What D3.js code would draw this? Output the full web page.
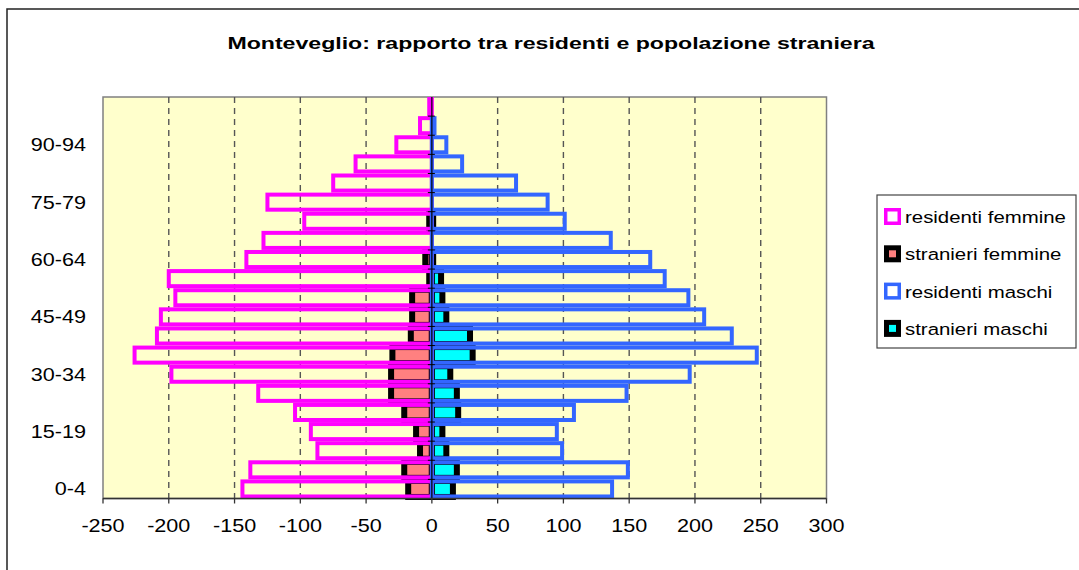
<!DOCTYPE html>
<html>
<head>
<meta charset="utf-8">
<script src="https://cdn.jsdelivr.net/npm/d3@7"></script>
<style>
  body { margin: 0; background: #fff; }
  text { font-family: "Liberation Sans", Arial, sans-serif; fill: #000; }
</style>
</head>
<body>
<div id="chart"></div>
<script>
// Age groups from youngest to oldest
const ageGroups = ["0-4", "5-9", "10-14", "15-19", "20-24", "25-29", "30-34", "35-39",
  "40-44", "45-49", "50-54", "55-59", "60-64", "65-69", "70-74", "75-79",
  "80-84", "85-89", "90-94", "95-99", "100+"];

// Females are plotted as negative values
const residentiFemmine = [-144, -138, -87, -92, -104, -132, -198, -226, -209, -206,
  -195, -200, -141, -128, -97, -125, -75, -58, -27, -9, -2];
const stranieriFemmine = [-18, -21, -9, -12, -21, -31, -31, -30, -16, -15,
  -15, -2, -5, 0, -2, 0, 0, 0, 0, 0, 0];
const residentiMaschi = [137, 149, 99, 95, 108, 148, 196, 247, 228, 207,
  195, 177, 166, 136, 101, 88, 64, 23, 11, 2, 0];
const stranieriMaschi = [16, 19, 11, 8, 20, 19, 14, 31, 29, 11,
  8, 7, 1, 0, 1, 0, 0, 0, 0, 0, 0];

const xTicks = [-250, -200, -150, -100, -50, 0, 50, 100, 150, 200, 250, 300];

const title = "Monteveglio: rapporto tra residenti e popolazione straniera";
const legendLabels = ["residenti femmine", "stranieri femmine", "residenti maschi", "stranieri maschi"];

const width = 1079;
const height = 570;
const plot = { left: 103, right: 826.5, top: 97, bottom: 498.5 };
const stretch = 1.2; // text in the original is drawn horizontally wide

const colors = {
  rf: "#ff00ff",
  sf: "#ff8080",
  rm: "#3366ff",
  sm: "#00ffff",
  bg: "#ffffcc",
};

const svg = d3.select("#chart")
  .append("svg")
  .attr("width", width)
  .attr("height", height);

// outer chart frame (right and bottom edges run off the picture)
svg.append("rect")
  .attr("x", 7).attr("y", 9)
  .attr("width", 1100).attr("height", 600)
  .attr("fill", "#fff")
  .attr("stroke", "#222")
  .attr("stroke-width", 1.5);

const x = d3.scaleLinear()
  .domain([xTicks[0], xTicks[xTicks.length - 1]])
  .range([plot.left, plot.right]);

const y = d3.scaleBand()
  .domain(ageGroups)
  .range([plot.bottom, plot.top])
  .paddingInner(0.16)
  .paddingOuter(0.08);

// plot area
svg.append("rect")
  .attr("x", plot.left).attr("y", plot.top)
  .attr("width", plot.right - plot.left)
  .attr("height", plot.bottom - plot.top)
  .attr("fill", colors.bg)
  .attr("stroke", "#808080")
  .attr("stroke-width", 1.5);

// dashed grid lines
svg.append("g")
  .selectAll("line")
  .data(xTicks.filter((t) => t !== 0 && t !== xTicks[0] && t !== xTicks[xTicks.length - 1]))
  .join("line")
  .attr("x1", (d) => x(d)).attr("x2", (d) => x(d))
  .attr("y1", plot.top).attr("y2", plot.bottom)
  .attr("stroke", "#555")
  .attr("stroke-width", 1.4)
  .attr("stroke-dasharray", "6,5");

function barX(v) { return Math.min(x(v), x(0)); }
function barW(v) { return Math.abs(x(v) - x(0)); }

// foreign residents: black thick outline with coloured fill
function drawForeign(values, fill) {
  svg.append("g")
    .selectAll("rect")
    .data(values.map((v, i) => ({ v, age: ageGroups[i] })).filter((d) => d.v !== 0))
    .join("rect")
    .attr("x", (d) => barX(d.v))
    .attr("y", (d) => y(d.age))
    .attr("width", (d) => barW(d.v))
    .attr("height", y.bandwidth())
    .attr("fill", fill)
    .attr("stroke", "#000")
    .attr("stroke-width", 6);
}

// all residents: coloured outline, no fill
function drawResidents(values, stroke) {
  svg.append("g")
    .selectAll("rect")
    .data(values.map((v, i) => ({ v, age: ageGroups[i] })).filter((d) => d.v !== 0))
    .join("rect")
    .attr("x", (d) => barX(d.v))
    .attr("y", (d) => y(d.age) + 0.5)
    .attr("width", (d) => barW(d.v))
    .attr("height", y.bandwidth() - 1)
    .attr("fill", "none")
    .attr("stroke", stroke)
    .attr("stroke-width", 4);
}

drawForeign(stranieriFemmine, colors.sf);
drawForeign(stranieriMaschi, colors.sm);
drawResidents(residentiFemmine, colors.rf);
drawResidents(residentiMaschi, colors.rm);

// category axis at zero
const catAxis = svg.append("g");
catAxis.append("line")
  .attr("x1", x(0)).attr("x2", x(0))
  .attr("y1", plot.top).attr("y2", plot.bottom)
  .attr("stroke", "#000")
  .attr("stroke-width", 1.2);
catAxis.selectAll("line.tick")
  .data(ageGroups)
  .join("line")
  .attr("class", "tick")
  .attr("x1", x(0) - 4).attr("x2", x(0) + 3)
  .attr("y1", (d) => y(d) + y.bandwidth() + y.step() * y.paddingInner() / 2)
  .attr("y2", (d) => y(d) + y.bandwidth() + y.step() * y.paddingInner() / 2)
  .attr("stroke", "#000")
  .attr("stroke-width", 1);

// category labels on the left, every third group
svg.append("g")
  .selectAll("text")
  .data(ageGroups.filter((d, i) => i % 3 === 0))
  .join("text")
  .attr("transform", (d) => `translate(86,${y(d) + y.bandwidth() / 2 + 6.5}) scale(${stretch},1)`)
  .attr("text-anchor", "end")
  .attr("font-size", "18px")
  .text((d) => d);

// value axis at the bottom
const xAxis = svg.append("g");
xAxis.append("line")
  .attr("x1", plot.left).attr("x2", plot.right)
  .attr("y1", plot.bottom).attr("y2", plot.bottom)
  .attr("stroke", "#333")
  .attr("stroke-width", 1.5);
xAxis.selectAll("line.tick")
  .data(xTicks)
  .join("line")
  .attr("class", "tick")
  .attr("x1", (d) => x(d)).attr("x2", (d) => x(d))
  .attr("y1", plot.bottom).attr("y2", plot.bottom + 5)
  .attr("stroke", "#333")
  .attr("stroke-width", 1.3);
xAxis.selectAll("text")
  .data(xTicks)
  .join("text")
  .attr("transform", (d) => `translate(${x(d)},532) scale(${stretch},1)`)
  .attr("text-anchor", "middle")
  .attr("font-size", "18px")
  .text((d) => d);

// title
svg.append("text")
  .attr("transform", "translate(551,49) scale(1.36,1)")
  .attr("text-anchor", "middle")
  .attr("font-size", "17px")
  .attr("font-weight", "bold")
  .text(title);

// legend
const legend = svg.append("g").attr("transform", "translate(877,195)");
legend.append("rect")
  .attr("width", 199).attr("height", 153)
  .attr("fill", "#fff")
  .attr("stroke", "#444")
  .attr("stroke-width", 1.2);

const legendItems = [
  { label: legendLabels[0], outer: colors.rf, inner: "#fff" },
  { label: legendLabels[1], outer: "#000", inner: colors.sf },
  { label: legendLabels[2], outer: colors.rm, inner: "#fff" },
  { label: legendLabels[3], outer: "#000", inner: colors.sm },
];

legendItems.forEach((item, i) => {
  const g = legend.append("g").attr("transform", `translate(7,${13 + i * 37.3})`);
  g.append("rect")
    .attr("width", 17).attr("height", 17)
    .attr("fill", item.outer);
  g.append("rect")
    .attr("x", item.inner === "#fff" ? 3.5 : 5).attr("y", item.inner === "#fff" ? 3.5 : 5)
    .attr("width", item.inner === "#fff" ? 10 : 7)
    .attr("height", item.inner === "#fff" ? 10 : 7)
    .attr("fill", item.inner);
  g.append("text")
    .attr("transform", `translate(21,15) scale(${stretch},1)`)
    .attr("font-size", "17px")
    .text(item.label);
});
</script>
</body>
</html>
